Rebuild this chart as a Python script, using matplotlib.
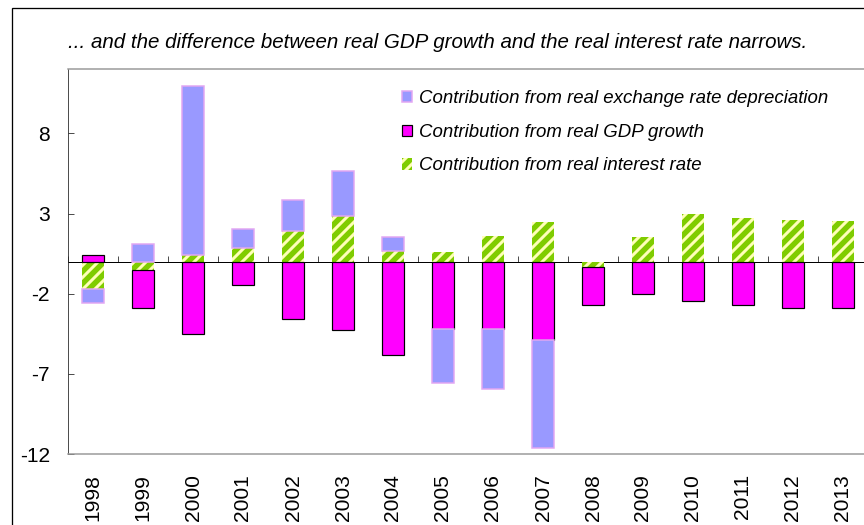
import matplotlib
matplotlib.use('Agg')
import matplotlib.pyplot as plt
import numpy as np
from matplotlib.patches import Patch, Rectangle

plt.rcParams['font.family'] = ['Liberation Sans', 'DejaVu Sans']
plt.rcParams['axes.unicode_minus'] = False
plt.rcParams['hatch.linewidth'] = 3.0

years = ['1998', '1999', '2000', '2001', '2002', '2003', '2004', '2005',
         '2006', '2007', '2008', '2009', '2010', '2011', '2012', '2013']
interest_rate = [-1.69, -0.5, 0.44, 0.85, 1.91, 2.85, 0.66, 0.58,
                 1.58, 2.5, -0.36, 1.52, 2.96, 2.7, 2.58, 2.52]
gdp_growth = [0.44, -2.4, -4.52, -1.44, -3.6, -4.25, -5.8, -4.23,
              -4.23, -4.88, -2.35, -2.0, -2.44, -2.71, -2.9, -2.9]
exchange_rate = [-0.88, 1.1, 10.53, 1.21, 1.96, 2.81, 0.88, -3.33,
                 -3.69, -6.73, 0.0, 0.0, 0.0, 0.0, 0.0, 0.0]

title = '... and the difference between real GDP growth and the real interest rate narrows.'
labels = ['Contribution from real exchange rate depreciation',
          'Contribution from real GDP growth',
          'Contribution from real interest rate']

BLUE = '#9999FF'
BLUE_EDGE = '#E2A6F2'
MAGENTA = '#FF00FF'
GREEN = '#7FCC00'
STRIPE = '#FFFFB8'

W, H = 864, 525
fig = plt.figure(figsize=(W / 72, H / 72), dpi=72)
ax = fig.add_axes([68 / W, (H - 454) / H, 800 / W, 385 / H])

x = np.arange(len(years))
width = 0.44
pos_base = np.zeros(len(years))
neg_base = np.zeros(len(years))


def stacked(values, **kw):
    v = np.asarray(values, dtype=float)
    bottom = np.where(v >= 0, pos_base, neg_base)
    keep = v != 0
    ax.bar(x[keep], v[keep], width=width, bottom=bottom[keep], **kw)
    pos_base[:] += np.clip(v, 0, None)
    neg_base[:] += np.clip(v, None, 0)


stacked(interest_rate, color=GREEN, edgecolor=STRIPE, linewidth=0, hatch='//', zorder=2)
stacked(gdp_growth, color=MAGENTA, edgecolor='black', linewidth=1.2, zorder=2)
stacked(exchange_rate, color=BLUE, edgecolor=BLUE_EDGE, linewidth=1.5, zorder=2)

ax.set_xlim(-0.5, len(years) - 0.5)
ax.set_ylim(-12, 12.02)
ax.set_yticks([8, 3, -2, -7, -12])
ax.tick_params(axis='y', direction='in', length=6, pad=18, labelsize=21, color='#222222')
ax.set_xticks(x)
ax.set_xticklabels(years, rotation=90, fontsize=21)
ax.tick_params(axis='x', length=0, pad=20)

ax.spines['right'].set_visible(False)
ax.spines['left'].set_color('#222222')
for side in ('top', 'bottom'):
    ax.spines[side].set_color('#999999')
    ax.spines[side].set_linewidth(1.5)

# zero line with category boundary ticks
zero = ax.secondary_xaxis(0, transform=ax.transData)
zero.set_xticks(np.arange(len(years) + 1) - 0.5)
zero.tick_params(direction='in', length=6, labelbottom=False, color='#222222')
zero.spines['bottom'].set_color('black')
zero.spines['bottom'].set_linewidth(1.0)

handles = [
    Patch(facecolor=BLUE, edgecolor=BLUE_EDGE, linewidth=1.5),
    Patch(facecolor=MAGENTA, edgecolor='black', linewidth=1.2),
    Patch(facecolor=GREEN, edgecolor=STRIPE, linewidth=0, hatch='//'),
]
fig.legend(handles, labels, loc='upper left', bbox_to_anchor=(402 / W, 1 - 90 / H),
           bbox_transform=fig.transFigure, frameon=False, borderpad=0, borderaxespad=0,
           handlelength=0.55, handleheight=0.55, handletextpad=0.38, labelspacing=0.9,
           prop={'size': 18.6, 'style': 'italic'})

fig.text(438 / W, 1 - 42 / H, title, ha='center', va='center', fontsize=20.5, style='italic')

fig.add_artist(Rectangle((12 / W, -0.1), 1.2, 1.1 - 8 / H, transform=fig.transFigure,
                         fill=False, edgecolor='black', linewidth=1.3))

fig.savefig('out.png', dpi=72)
